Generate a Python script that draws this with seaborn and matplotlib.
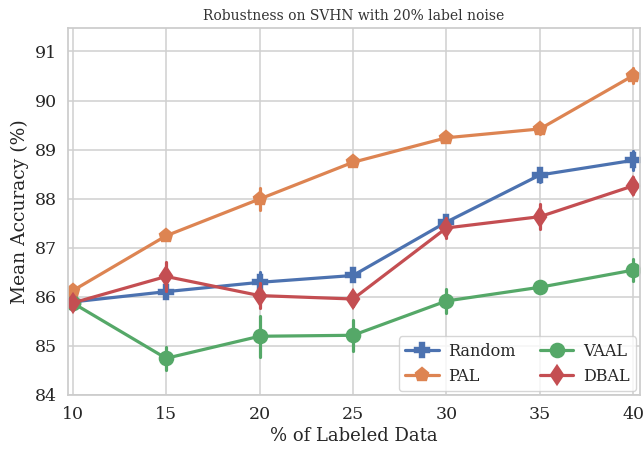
import numpy as np
import pandas as pd
import seaborn as sns
import matplotlib
matplotlib.use('Agg')
import matplotlib.pyplot as plt

# Percentage of labeled data (x categories)
pct = [10, 15, 20, 25, 30, 35, 40]
methods = ['Random', 'PAL', 'VAAL', 'DBAL']

# mean accuracy per method
random_mean = [85.89, 86.10, 86.29, 86.43, 87.52, 88.48, 88.78]
pal_mean = [86.12, 87.24, 87.99, 88.74, 89.24, 89.42, 90.51]
vaal_mean = [85.87, 84.74, 85.19, 85.21, 85.91, 86.19, 86.54]
dbal_mean = [85.87, 86.41, 86.02, 85.95, 87.40, 87.63, 88.26]

# half length of error bars
random_err = [0.05, 0.12, 0.22, 0.10, 0.12, 0.14, 0.19]
pal_err = [0.08, 0.07, 0.22, 0.05, 0.07, 0.10, 0.15]
vaal_err = [0.05, 0.23, 0.42, 0.32, 0.24, 0.06, 0.23]
dbal_err = [0.10, 0.29, 0.25, 0.15, 0.20, 0.25, 0.17]

means = [random_mean, pal_mean, vaal_mean, dbal_mean]
errs = [random_err, pal_err, vaal_err, dbal_err]

# two rows per point (mean - err, mean + err) so the interval is the error bar
rows = []
for m, mu, er in zip(methods, means, errs):
    for p, v, e in zip(pct, mu, er):
        rows.append({'pct': p, 'acc': v - e, 'method': m})
        rows.append({'pct': p, 'acc': v + e, 'method': m})
df = pd.DataFrame(rows)

sns.set_theme(style='whitegrid', palette='deep')
plt.rcParams['font.family'] = ['DejaVu Serif']

fig = plt.figure(figsize=(6.44, 4.51), dpi=100)
ax = fig.add_axes([0.1056, 0.124, 0.888, 0.814])

sns.pointplot(data=df, x='pct', y='acc', hue='method', hue_order=methods,
              markers=['P', 'p', 'o', 'd'], linestyles='-',
              errorbar=lambda v: (v.min(), v.max()),
              markersize=9.5, linewidth=2.3, err_kws={'linewidth': 2.3},
              ax=ax)

ax.set_xlim(-0.05, 6.07)
ax.set_ylim(83.99, 91.48)
ax.set_yticks([84, 85, 86, 87, 88, 89, 90, 91])
ax.grid(True, axis='both', color='#d0d0d0', linewidth=1.1)
ax.set_axisbelow(True)
ax.tick_params(labelsize=12.5, pad=2)
ax.set_title('Robustness on SVHN with 20% label noise', fontsize=10, color='#333333')
ax.set_xlabel('% of Labeled Data', fontsize=13, labelpad=3)
ax.set_ylabel('Mean Accuracy (%)', fontsize=13.5)
for s in ax.spines.values():
    s.set_color('#cccccc')
ax.legend(loc='lower right', ncol=2, fontsize=11.5, columnspacing=1.5,
          handlelength=2.1, handletextpad=0.6, borderaxespad=0.25)

fig.savefig('out.png', dpi=100)
